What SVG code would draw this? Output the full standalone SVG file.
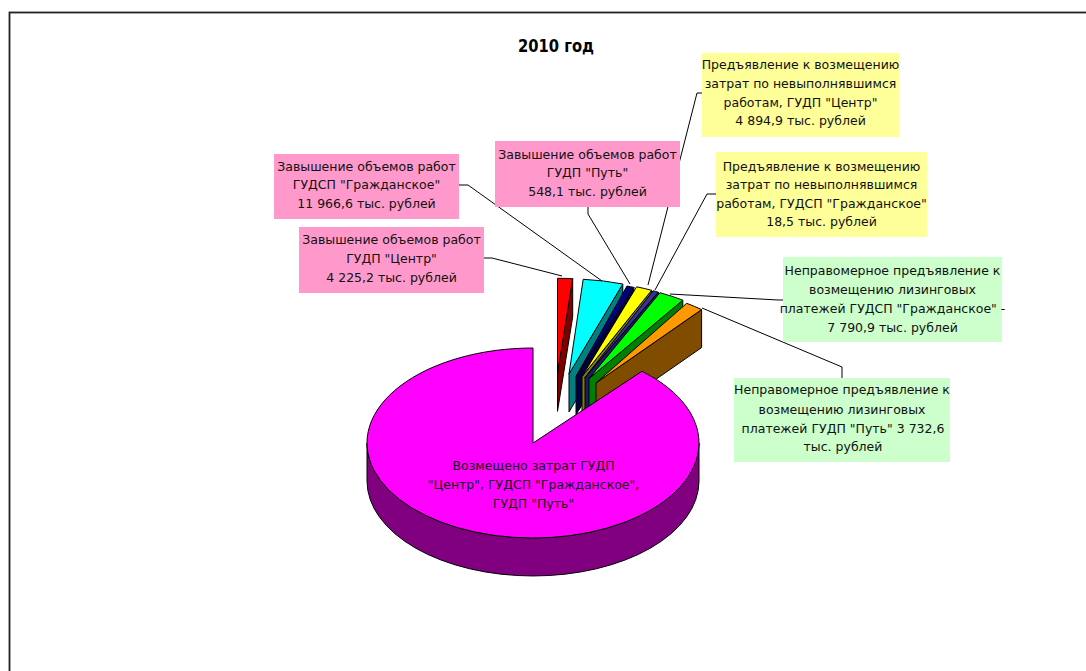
<svg xmlns="http://www.w3.org/2000/svg" width="1086" height="671" viewBox="0 0 1086 671">
<style>
.t{font-family:"DejaVu Sans","Liberation Sans",sans-serif;font-size:12.5px;fill:#111;text-anchor:middle}
.ttl{font-family:"DejaVu Sans","Liberation Sans",sans-serif;font-size:17px;font-weight:bold;fill:#000;text-anchor:middle}
.pk{fill:#FF99CC}
.yl{fill:#FFFF99}
.gr{fill:#CCFFCC}
.ln{fill:none;stroke:#000;stroke-width:1}
.s{stroke:#000;stroke-width:1;stroke-linejoin:round}
</style>
<rect x="0" y="0" width="1086" height="671" fill="#fff"/>
<rect x="9.5" y="12.5" width="1100" height="700" fill="none" stroke="#222" stroke-width="1.8"/>
<text class="ttl" x="556" y="51.5" textLength="76" lengthAdjust="spacingAndGlyphs">2010 год</text>

<g id="pie">
  <g id="slice-red">
    <path class="s" fill="#800000" d="M572.7,278.7 L557.5,373.3 L557.5,411.3 L572.7,316.7 Z"/>
    <path class="s" fill="#FF0000" d="M557.5,373.3 L557.5,278.3 A166,95 0 0 1 572.7,278.7 Z"/>
  </g>
  <g id="slice-cyan">
    <path class="s" fill="#008080" d="M622.8,284 L569,373.9 L569,411.9 L622.8,322 Z"/>
    <path class="s" fill="#00FFFF" d="M569,373.9 L583.2,279.3 A166,95 0 0 1 622.8,284 Z"/>
  </g>
  <g id="slice-navy">
    <path class="s" fill="#000040" d="M633.9,287.4 L576,376.4 L576,414.4 L633.9,325.4 Z"/>
    <path class="s" fill="#000080" d="M576,376.4 L627,286 A166,95 0 0 1 633.9,287.4 Z"/>
  </g>
  <g id="slice-yellow">
    <path class="s" fill="#808000" d="M651.6,290.3 L582,376.5 L582,414.5 L651.6,328.3 Z"/>
    <path class="s" fill="#FFFF00" d="M582,376.5 L636.6,286.8 A166,95 0 0 1 651.6,290.3 Z"/>
  </g>
  <g id="slice-blue">
    <path class="s" fill="#1A1A66" d="M658.3,292.2 L585,377.4 L585,415.4 L658.3,330.2 Z"/>
    <path class="s" fill="#333399" d="M585,377.4 L653.1,290.8 A166,95 0 0 1 658.3,292.2 Z"/>
  </g>
  <g id="slice-green">
    <path class="s" fill="#008000" d="M682.8,300.2 L589,378.6 L589,416.6 L682.8,338.2 Z"/>
    <path class="s" fill="#00FF00" d="M589,378.6 L659.9,292.7 A166,95 0 0 1 682.8,300.2 Z"/>
  </g>
  <g id="slice-orange">
    <path class="s" fill="#804C00" d="M701.6,309.6 L596,382.9 L596,420.9 L701.6,347.6 Z"/>
    <path class="s" fill="#FF9900" d="M596,382.9 L686.7,303.3 A166,95 0 0 1 701.6,309.6 Z"/>
  </g>
  <g id="slice-main">
    <path class="s" fill="#800080" d="M367,443 A166,95 0 0 0 699,443 L699,481 A166,95 0 0 1 367,481 Z"/>
    <path class="s" fill="#FF00FF" d="M533,443 L641.9,371.3 A166,95 0 1 1 533,348 Z"/>
    <text class="t" x="533.5" y="470">Возмещено затрат ГУДП</text>
    <text class="t" x="533.5" y="489">"Центр", ГУДСП "Гражданское",</text>
    <text class="t" x="533.5" y="508">ГУДП "Путь"</text>
  </g>
</g>

<g id="connectors">
  <polyline class="ln" points="459,185 468,185 602,281"/>
  <polyline class="ln" points="484,258 492,258 562,276"/>
  <polyline class="ln" points="588,207 588,214 630,284"/>
  <polyline class="ln" points="702,93 697,93 648,285"/>
  <polyline class="ln" points="716,194 707,194 655,290"/>
  <polyline class="ln" points="783,300 778,300 670,294"/>
  <polyline class="ln" points="842,378 842,367 702,308"/>
</g>

<g id="label-grazhd-zavysh">
  <rect class="pk" x="274" y="154" width="185" height="65"/>
  <text class="t" x="366.5" y="170.5">Завышение объемов работ</text>
  <text class="t" x="366.5" y="189">ГУДСП "Гражданское"</text>
  <text class="t" x="366.5" y="207.5">11 966,6 тыс. рублей</text>
</g>
<g id="label-put-zavysh">
  <rect class="pk" x="495" y="141" width="185" height="66"/>
  <text class="t" x="587.5" y="158.5">Завышение объемов работ</text>
  <text class="t" x="587.5" y="177">ГУДП "Путь"</text>
  <text class="t" x="587.5" y="195.5">548,1 тыс. рублей</text>
</g>
<g id="label-centr-zavysh">
  <rect class="pk" x="299" y="227" width="185" height="66"/>
  <text class="t" x="391.5" y="243.5">Завышение объемов работ</text>
  <text class="t" x="391.5" y="262.5">ГУДП "Центр"</text>
  <text class="t" x="391.5" y="281.5">4 225,2 тыс. рублей</text>
</g>
<g id="label-centr-predj">
  <rect class="yl" x="702" y="53" width="197" height="84"/>
  <text class="t" x="800.5" y="69">Предъявление к возмещению</text>
  <text class="t" x="800.5" y="87.5">затрат по невыполнявшимся</text>
  <text class="t" x="800.5" y="106.5">работам, ГУДП "Центр"</text>
  <text class="t" x="800.5" y="125">4 894,9 тыс. рублей</text>
</g>
<g id="label-grazhd-predj">
  <rect class="yl" x="716" y="152" width="211" height="85"/>
  <text class="t" x="821.5" y="170.5">Предъявление к возмещению</text>
  <text class="t" x="821.5" y="188.5">затрат по невыполнявшимся</text>
  <text class="t" x="821.5" y="207.5">работам, ГУДСП "Гражданское"</text>
  <text class="t" x="821.5" y="225.5">18,5 тыс. рублей</text>
</g>
<g id="label-grazhd-lizing">
  <rect class="gr" x="783" y="257" width="219" height="85"/>
  <text class="t" x="892.5" y="275">Неправомерное предъявление к</text>
  <text class="t" x="892.5" y="294">возмещению лизинговых</text>
  <text class="t" x="892.5" y="313">платежей ГУДСП "Гражданское" -</text>
  <text class="t" x="892.5" y="331.5">7 790,9 тыс. рублей</text>
</g>
<g id="label-put-lizing">
  <rect class="gr" x="734" y="378" width="216" height="84"/>
  <text class="t" x="842" y="394">Неправомерное предъявление к</text>
  <text class="t" x="842" y="413.5">возмещению лизинговых</text>
  <text class="t" x="843" y="432.5">платежей ГУДП "Путь" 3 732,6</text>
  <text class="t" x="843" y="451">тыс. рублей</text>
</g>
</svg>
